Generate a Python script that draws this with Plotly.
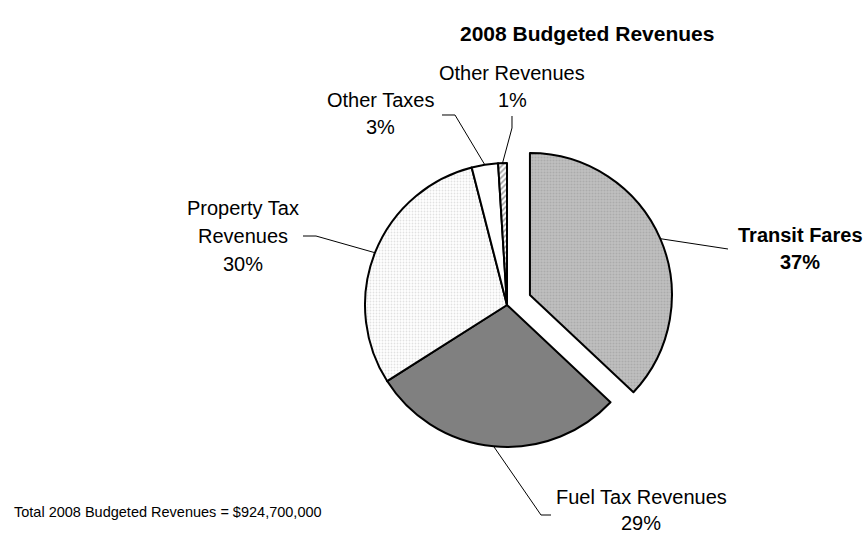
import math
import plotly.graph_objects as go

# Revenue categories, in clockwise order from 12 o'clock
categories = ["Transit Fares", "Fuel Tax Revenues", "Property Tax Revenues",
              "Other Taxes", "Other Revenues"]
shares = [37, 29, 30, 3, 1]  # percent of total budgeted revenues
label_lines = [["Transit Fares", "37%"],
               ["Fuel Tax Revenues", "29%"],
               ["Property Tax", "Revenues", "30%"],
               ["Other Taxes", "3%"],
               ["Other Revenues", "1%"]]
pulls = [0.176, 0, 0, 0, 0]
title_text = "2008 Budgeted Revenues"
total_text = "Total 2008 Budgeted Revenues = $924,700,000"

W, H = 868, 557
FONT = "Liberation Sans, Arial, sans-serif"

# pie geometry in pixels
cx, cy, r = 507, 305, 142
half = r * (1 + max(pulls))
dom_x = [(cx - half) / W, (cx + half) / W]
dom_y = [1 - (cy + half) / H, 1 - (cy - half) / H]


def px(x, y):
    return x / W, 1 - y / H


fig = go.Figure(go.Pie(
    labels=categories,
    values=shares,
    sort=False,
    direction="clockwise",
    rotation=0,
    pull=pulls,
    textinfo="none",
    hoverinfo="label+percent",
    showlegend=False,
    domain=dict(x=dom_x, y=dom_y),
    marker=dict(
        colors=["#b8b8b8", "#808080", "#ffffff", "#ffffff", "#ffffff"],
        line=dict(color="black", width=2),
        pattern=dict(
            shape=[".", "", ".", "", "/"],
            fgcolor=["#989898", "#808080", "#c4c4c4", "#ffffff", "#444444"],
            bgcolor=["#bfbfbf", "#808080", "#ffffff", "#ffffff", "#ffffff"],
            size=[3, 8, 3, 8, 4],
            solidity=[0.35, 0.3, 0.3, 0.3, 0.4],
            fillmode="overlay",
        ),
    ),
))

# label placement: centre x, first-line y, line gap, bold
label_pos = [
    dict(x=800, y=235, gap=27, bold=True),
    dict(x=641, y=497, gap=26, bold=False),
    dict(x=243, y=208, gap=28, bold=False),
    dict(x=380, y=100, gap=27, bold=False),
    dict(x=512, y=73, gap=27, bold=False),
]
# leader line path points after the point on the slice edge
leader_ends = [
    [(728, 249)],
    [(541, 515), (551, 515)],
    [(316, 236), (303, 236)],
    [(455, 115), (442, 115)],
    [(512, 128), (512, 116)],
]

annotations = []
shapes = []
total = sum(shares)
start = 0.0
for i, v in enumerate(shares):
    mid = (start + v / 2) / total * 2 * math.pi
    start += v
    ox = pulls[i] * r * math.sin(mid)
    oy = -pulls[i] * r * math.cos(mid)
    ax = cx + ox + r * math.sin(mid)
    ay = cy + oy - r * math.cos(mid)

    pts = [(ax, ay)] + leader_ends[i]
    path = "M " + " L ".join(f"{px(x, y)[0]:.5f},{px(x, y)[1]:.5f}" for x, y in pts)
    shapes.append(dict(type="path", xref="paper", yref="paper", path=path,
                       line=dict(color="black", width=1)))

    lp = label_pos[i]
    for k, line in enumerate(label_lines[i]):
        tx, ty = px(lp["x"], lp["y"] + k * lp["gap"])
        annotations.append(dict(
            x=tx, y=ty, xref="paper", yref="paper", showarrow=False,
            xanchor="center", yanchor="middle",
            text=f"<b>{line}</b>" if lp["bold"] else line,
            font=dict(family=FONT, size=20, color="black"),
        ))

tx, ty = px(587, 33)
annotations.append(dict(x=tx, y=ty, xref="paper", yref="paper", showarrow=False,
                        xanchor="center", yanchor="middle",
                        text=f"<b>{title_text}</b>",
                        font=dict(family=FONT, size=21, color="black")))
tx, ty = px(12, 512)
annotations.append(dict(x=tx, y=ty, xref="paper", yref="paper", showarrow=False,
                        xanchor="left", yanchor="middle", text=total_text,
                        font=dict(family=FONT, size=14.5, color="black")))

fig.update_layout(
    width=W, height=H,
    margin=dict(l=0, r=0, t=0, b=0),
    paper_bgcolor="white", plot_bgcolor="white",
    annotations=annotations, shapes=shapes,
)

fig.write_html("out.html")
